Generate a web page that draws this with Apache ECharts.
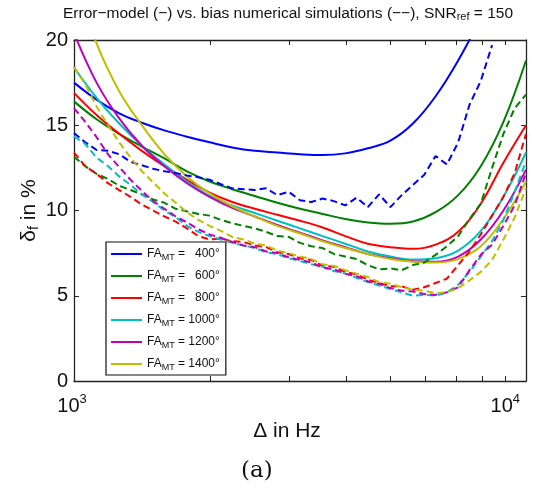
<!DOCTYPE html>
<html><head><meta charset="utf-8">
<script src="https://cdn.jsdelivr.net/npm/echarts@6/dist/echarts.min.js"></script>
<style>html,body{margin:0;padding:0;background:#fff}#c{width:544px;height:491px}</style>
</head><body><div id="c"></div>
<script>
// ---- data ----
const faValues = [400, 600, 800, 1000, 1200, 1400];
const colors = ['#0000ff', '#008000', '#ff0000', '#00bfbf', '#bf00bf', '#bfbf00'];
const xMajorTicks = [1000, 10000];
const xMinorTicks = [2000, 3000, 4000, 5000, 6000, 7000, 8000, 9000];
const yTicks = [0, 5, 10, 15, 20];

// error model (solid)
const solidFreq = [1000, 1122, 1259, 1413, 1585, 1778, 1995, 2239, 2512, 2818, 3162, 3548, 3981, 4467, 5012, 5623, 6310, 7079, 7943, 8913, 10000];
const model400  = [17.5, 16.5, 15.7, 15.15, 14.7, 14.33, 14.0, 13.7, 13.5, 13.4, 13.3, 13.25, 13.35, 13.65, 14.1, 15.1, 16.7, 18.8, 21.3, null, null];
const model600  = [16.4, 15.35, 14.5, 13.75, 13.05, 12.3, 11.7, 11.25, 10.85, 10.45, 10.1, 9.8, 9.5, 9.3, 9.22, 9.35, 9.9, 10.9, 12.6, 15.2, 18.8];
const model800  = [16.9, 15.6, 14.5, 13.5, 12.6, 11.8, 11.05, 10.5, 10.1, 9.75, 9.4, 9.0, 8.5, 8.05, 7.85, 7.75, 8.0, 8.75, 10.4, 12.8, 15.0];
const model1000 = [18.4, 16.6, 15.1, 13.8, 12.7, 11.7, 10.85, 10.3, 9.85, 9.4, 8.95, 8.5, 8.05, 7.6, 7.3, 7.12, 7.2, 7.65, 8.8, 10.8, 13.4];
const model1200 = [20.4, 17.5, 15.4, 13.8, 12.6, 11.6, 10.8, 10.15, 9.65, 9.15, 8.7, 8.25, 7.85, 7.45, 7.2, 7.02, 7.0, 7.3, 8.3, 10.0, 12.4];
const model1400 = [23.8, 19.8, 17.0, 15.0, 13.3, 12.0, 11.0, 10.25, 9.65, 9.1, 8.65, 8.2, 7.8, 7.45, 7.15, 7.0, 6.95, 7.15, 7.9, 9.5, 11.7];

// numerical simulations (dashed)
const simFreq = [1000, 1059, 1122, 1189, 1259, 1334, 1413, 1496, 1585, 1679, 1778, 1884, 1995, 2113, 2239, 2371, 2512, 2661, 2818, 2985, 3162, 3350, 3548, 3758, 3981, 4217, 4467, 4732, 5012, 5309, 5623, 5957, 6310, 6683, 7079, 7499, 7943, 8414, 8913, 9441, 10000];
const sim400  = [14.55, 14.0, 13.55, 13.5, 13.3, 12.85, 12.65, 12.45, 12.3, 12.2, 12.05, 11.95, 11.8, 11.55, 11.3, 11.25, 11.2, 11.3, 10.9, 11.1, 10.6, 10.5, 10.7, 10.55, 10.3, 10.75, 10.2, 10.95, 10.2, 10.9, 11.5, 12.1, 13.2, 12.7, 14.0, 16.2, 17.6, 19.7, null, null, null];
const sim600  = [13.15, 12.6, 12.15, 11.85, 11.45, 11.2, 10.95, 10.65, 10.45, 10.1, 9.95, 9.8, 9.7, 9.45, 9.25, 9.1, 8.95, 8.75, 8.5, 8.45, 8.1, 7.9, 7.8, 7.45, 7.3, 7.15, 6.8, 6.55, 6.6, 6.5, 6.8, 6.95, 7.4, 7.9, 8.5, 9.5, 10.4, 12.5, 14.5, 16.0, 16.8];
const sim800  = [13.4, 12.6, 12.15, 11.6, 11.2, 10.8, 10.35, 10.0, 9.65, 9.35, 8.95, 8.5, 8.3, 8.35, 8.2, 8.15, 7.95, 7.85, 7.55, 7.45, 7.2, 7.1, 6.75, 6.7, 6.4, 6.25, 5.95, 5.75, 5.55, 5.55, 5.35, 5.5, 5.75, 6.0, 6.8, 7.6, 8.6, 9.7, 10.8, 12.2, 14.5];
const sim1000 = [14.35, 13.9, 13.1, 12.6, 12.0, 11.5, 10.95, 10.5, 10.0, 9.6, 9.1, 8.75, 8.5, 8.3, 8.1, 7.95, 7.8, 7.55, 7.45, 7.2, 7.05, 6.85, 6.7, 6.45, 6.3, 6.05, 5.8, 5.6, 5.4, 5.2, 5.0, 5.05, 5.0, 5.2, 5.65, 6.4, 7.3, 8.2, 9.45, 11.1, 12.9];
const sim1200 = [16.0, 15.2, 14.3, 13.3, 12.55, 11.8, 11.15, 10.55, 10.1, 9.65, 9.3, 8.9, 8.6, 8.4, 8.15, 7.95, 7.85, 7.6, 7.5, 7.25, 7.1, 6.95, 6.65, 6.55, 6.3, 6.15, 5.85, 5.7, 5.45, 5.3, 5.25, 5.1, 5.05, 5.2, 5.5, 6.5, 7.4, 8.0, 9.1, 10.3, 12.2];
const sim1400 = [18.4, 17.4, 16.1, 15.0, 14.0, 13.1, 12.3, 11.65, 11.0, 10.45, 9.9, 9.45, 9.1, 8.8, 8.45, 8.3, 8.05, 7.95, 7.65, 7.5, 7.3, 7.15, 6.85, 6.75, 6.5, 6.3, 6.1, 5.8, 5.7, 5.5, 5.35, 5.3, 5.15, 5.2, 5.45, 5.9, 6.4, 7.1, 8.3, 9.6, 11.3];

const modelSets = [model400, model600, model800, model1000, model1200, model1400];
const simSets = [sim400, sim600, sim800, sim1000, sim1200, sim1400];

// ---- chart ----
const FONT = "'Liberation Sans', Arial, Helvetica, sans-serif";
const chart = echarts.init(document.getElementById('c'), null, {renderer: 'canvas'});
const pair = (fs, vs) => fs.map((f, i) => [f, vs[i]]);
const names = faValues.map(v => 'FA_MT = ' + v + '°');

const series = [];
faValues.forEach((v, k) => {
  series.push({
    name: names[k], type: 'line', xAxisIndex: 0, yAxisIndex: 0,
    data: pair(solidFreq, modelSets[k]), symbol: 'none', smooth: 0.4, clip: true,
    lineStyle: {color: colors[k], width: 2}, itemStyle: {color: colors[k]}, z: 2
  });
});
faValues.forEach((v, k) => {
  series.push({
    name: 'sim ' + v, type: 'line', xAxisIndex: 0, yAxisIndex: 0,
    data: pair(simFreq, simSets[k]), symbol: 'none', clip: true,
    lineStyle: {color: colors[k], width: 2, type: [7, 4]}, itemStyle: {color: colors[k]}, z: 3
  });
});

const tickCommon = {show: true, inside: true, length: 5, lineStyle: {color: '#222', width: 1}};
const axisLineCommon = {show: true, lineStyle: {color: '#222', width: 1.3}};

chart.setOption({
  animation: false,
  backgroundColor: '#fff',
  textStyle: {fontFamily: FONT},
  title: {
    text: 'Error−model (−) vs. bias numerical simulations (−−), SNR{sub|ref}{m| = 150}',
    left: 58, top: 1,
    textStyle: {
      fontFamily: FONT, fontSize: 15.5, fontWeight: 'normal', color: '#111',
      rich: {
        sub: {fontFamily: FONT, fontSize: 11, color: '#111', verticalAlign: 'bottom', lineHeight: 11},
        m: {fontFamily: FONT, fontSize: 15.5, color: '#111'}
      }
    }
  },
  grid: {left: 74, top: 40, right: 18, bottom: 110, containLabel: false},
  legend: {
    data: names,
    orient: 'vertical', left: 106, top: 242,
    icon: 'rect', itemWidth: 31, itemHeight: 2, itemGap: 6,
    padding: [4, 6, 3, 5],
    backgroundColor: '#fff', borderColor: '#111', borderWidth: 1.2,
    textStyle: {fontFamily: FONT, color: '#111', fontSize: 12, lineHeight: 16,
      rich: {
        a: {fontFamily: FONT, fontSize: 12, color: '#111', lineHeight: 16},
        s: {fontFamily: FONT, fontSize: 9, color: '#111', verticalAlign: 'bottom', lineHeight: 9}
      }
    },
    formatter: name => {
      const v = name.split('= ')[1];
      const pad = v.length < 5 ? '  ' : '';
      return '{a|FA}{s|MT}{a| = ' + pad + v + '}';
    }
  },
  xAxis: [
    {
      type: 'log', logBase: 10, min: xMajorTicks[0], max: xMajorTicks[1], position: 'bottom',
      axisLine: axisLineCommon, axisTick: {show: false}, splitLine: {show: false},
      axisLabel: {
        margin: 12, color: '#111', alignMaxLabel: 'right',
        formatter: v => '{b|10}{p|' + Math.round(Math.log10(v)) + '}' + (v >= 10000 ? '{q|}' : '{r|}'),
        rich: {
          b: {fontFamily: FONT, fontSize: 20, color: '#111', lineHeight: 26},
          p: {fontFamily: FONT, fontSize: 13, color: '#111', verticalAlign: 'top', lineHeight: 13},
          q: {width: 6},
          r: {width: 4}
        }
      },
      name: 'Δ in Hz', nameLocation: 'middle', nameGap: 38,
      nameTextStyle: {fontFamily: FONT, fontSize: 21, color: '#111', padding: [0, 26, 0, 0]}
    },
    {
      type: 'value', min: Math.log10(xMajorTicks[0]), max: Math.log10(xMajorTicks[1]), position: 'bottom',
      axisLine: {show: false}, splitLine: {show: false}, axisLabel: {show: false},
      axisTick: Object.assign({}, tickCommon, {customValues: xMinorTicks.map(f => Math.log10(f))})
    },
    {
      type: 'value', min: Math.log10(xMajorTicks[0]), max: Math.log10(xMajorTicks[1]), position: 'top',
      axisLine: axisLineCommon, splitLine: {show: false}, axisLabel: {show: false},
      axisTick: Object.assign({}, tickCommon, {customValues: xMinorTicks.map(f => Math.log10(f))})
    }
  ],
  yAxis: [
    {
      type: 'value', min: yTicks[0], max: yTicks[yTicks.length - 1], interval: 5, position: 'left',
      axisLine: axisLineCommon, axisTick: tickCommon, splitLine: {show: false},
      axisLabel: {margin: 6, color: '#111', fontFamily: FONT, fontSize: 20},
      name: '{d|δ}{s|f}{d| in %}', nameLocation: 'middle', nameGap: 33, nameRotate: 90,
      nameMoveOverlap: false,
      nameTextStyle: {
        fontFamily: FONT, fontSize: 21, color: '#111',
        rich: {
          d: {fontFamily: FONT, fontSize: 21, color: '#111', lineHeight: 24},
          s: {fontFamily: FONT, fontSize: 14, color: '#111', verticalAlign: 'bottom', lineHeight: 14}
        }
      }
    },
    {
      type: 'value', min: yTicks[0], max: yTicks[yTicks.length - 1], interval: 5, position: 'right',
      axisLine: axisLineCommon, axisTick: tickCommon, splitLine: {show: false},
      axisLabel: {show: false}
    }
  ],
  graphic: [{
    type: 'text', left: 241, top: 460,
    style: {text: '(a)', fontFamily: "'DejaVu Serif', 'Liberation Serif', serif", fontSize: 23, fill: '#111'}
  }],
  series: series
});
</script>
</body></html>
